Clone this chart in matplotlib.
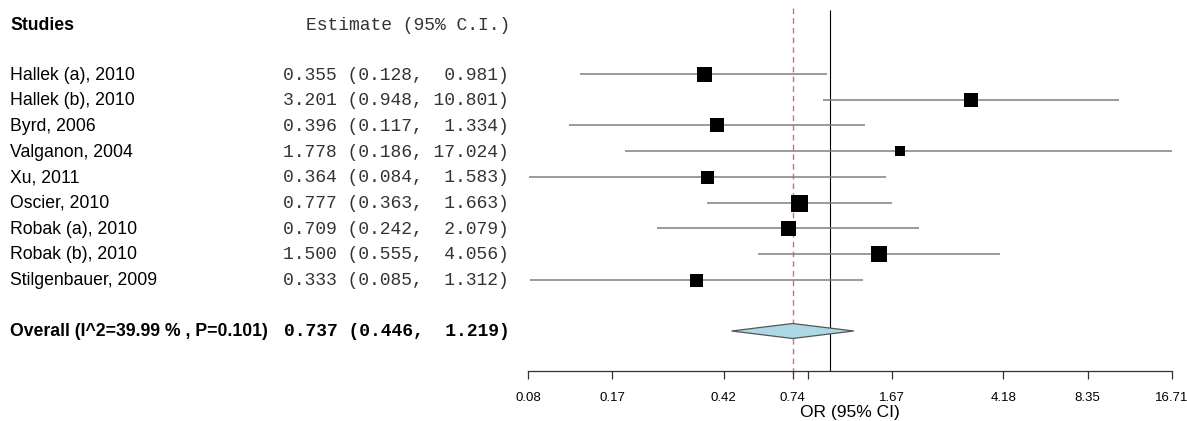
import matplotlib
matplotlib.use("Agg")
import matplotlib.pyplot as plt
import matplotlib.transforms as mtransforms
from matplotlib.ticker import FixedLocator, FixedFormatter, NullLocator
from matplotlib.patches import Polygon

# ---------------- data ----------------
studies = ["Hallek (a), 2010", "Hallek (b), 2010", "Byrd, 2006", "Valganon, 2004",
           "Xu, 2011", "Oscier, 2010", "Robak (a), 2010", "Robak (b), 2010",
           "Stilgenbauer, 2009"]
est = [0.355, 3.201, 0.396, 1.778, 0.364, 0.777, 0.709, 1.500, 0.333]
lower = [0.128, 0.948, 0.117, 0.186, 0.084, 0.363, 0.242, 0.555, 0.085]
upper = [0.981, 10.801, 1.334, 17.024, 1.583, 1.663, 2.079, 4.056, 1.312]
est_text = ["0.355 (0.128,  0.981)", "3.201 (0.948, 10.801)", "0.396 (0.117,  1.334)",
            "1.778 (0.186, 17.024)", "0.364 (0.084,  1.583)", "0.777 (0.363,  1.663)",
            "0.709 (0.242,  2.079)", "1.500 (0.555,  4.056)", "0.333 (0.085,  1.312)"]
box_px = [15, 14.5, 14, 10, 13, 17, 15, 16, 13]   # relative weight box sizes (pixels)

overall_est, overall_lo, overall_hi = 0.737, 0.446, 1.219
overall_label = "Overall (I^2=39.99 % , P=0.101)"
overall_text = "0.737 (0.446,  1.219)"

tick_vals = [0.08355, 0.1671, 0.41775, 0.737, 0.8355, 1.671, 4.1775, 8.355, 16.71]
tick_labels = ["0.08", "0.17", "0.42", "0.74", "", "1.67", "4.18", "8.35", "16.71"]

# ---------------- layout ----------------
W, H = 1187, 421
fig = plt.figure(figsize=(W / 100, H / 100), dpi=100)
x0, x1, yax = 528, 1172, 371
ax = fig.add_axes([x0 / W, (H - yax) / H, (x1 - x0) / W, yax / H])
ax.set_xscale("log")
ax.set_xlim(tick_vals[0], tick_vals[-1])
ax.set_ylim(yax, 0)
for s in ["top", "left", "right"]:
    ax.spines[s].set_visible(False)
ax.spines["bottom"].set_color("#333333")
ax.spines["bottom"].set_linewidth(0.9)
ax.set_yticks([])
ax.xaxis.set_major_locator(FixedLocator(tick_vals))
ax.xaxis.set_major_formatter(FixedFormatter(tick_labels))
ax.xaxis.set_minor_locator(NullLocator())
ax.tick_params(axis="x", direction="out", length=6, width=0.9, color="#333333",
               labelsize=9.5, pad=9)
for lab in ax.get_xticklabels():
    lab.set_fontfamily("Liberation Sans")

row_y = [74 + 25.7 * i for i in range(len(studies))]
overall_y = 331
header_y = 26

# reference lines
ax.vlines(1.0, 10, yax, color="black", lw=0.8, zorder=1)
ax.vlines(overall_est, 8, yax + 7, color="#e26a6a", lw=1.0, linestyles=(0, (4, 3)),
          zorder=1, clip_on=False)

# CI lines and boxes
ax.hlines(row_y, lower, upper, color="#7f7f7f", lw=1.1, zorder=2)
for e, y, s in zip(est, row_y, box_px):
    ax.plot([e], [y], marker="s", ms=s * 0.72, color="black", mec="black", mew=0,
            zorder=3)

# overall diamond
dh = 7.5
diamond = Polygon([[overall_lo, overall_y], [overall_est, overall_y - dh],
                   [overall_hi, overall_y], [overall_est, overall_y + dh]],
                  closed=True, facecolor="#add8e6", edgecolor="#555555", lw=0.9,
                  zorder=3)
ax.add_patch(diamond)

# ---------------- text columns ----------------
tr = mtransforms.blended_transform_factory(fig.transFigure, ax.transData)
sans = "Liberation Sans"
mono = "Liberation Mono"
fig_x = lambda px: px / W
fs_sans = 12.7

ax.text(fig_x(10), header_y, "Studies", transform=tr, fontsize=fs_sans, fontweight="bold",
        family=sans, va="center", ha="left")
ax.text(fig_x(510), header_y, "Estimate (95% C.I.)", transform=tr, fontsize=13,
        family=mono, va="center", ha="right", color="#333333")
for name, txt, y in zip(studies, est_text, row_y):
    ax.text(fig_x(10), y + 1, name, transform=tr, fontsize=fs_sans, family=sans,
            va="center", ha="left")
    ax.text(fig_x(509), y + 1, txt, transform=tr, fontsize=13, family=mono,
            va="center", ha="right", color="#333333")
ax.text(fig_x(10), overall_y, overall_label, transform=tr, fontsize=fs_sans,
        fontweight="bold", family=sans, va="center", ha="left")
ax.text(fig_x(510), overall_y, overall_text, transform=tr, fontsize=13,
        fontweight="bold", family=mono, va="center", ha="right")

fig.text((x0 + x1) / 2 / W, 1 - 412 / H, "OR (95% CI)", fontsize=12.5, family=sans,
         ha="center", va="center")

fig.savefig("out.png", dpi=100)
